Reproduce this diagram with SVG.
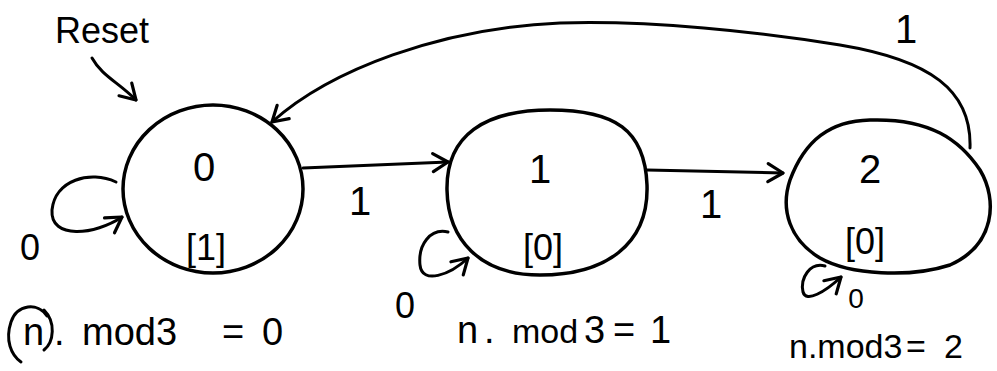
<svg xmlns="http://www.w3.org/2000/svg" width="997" height="371" viewBox="0 0 997 371">
<defs>
<style>
.node{fill:none;stroke:#000;stroke-width:3.5;stroke-linecap:round;stroke-linejoin:round}
.edge{fill:none;stroke:#000;stroke-width:3;stroke-linecap:round}
.t{font-family:"Liberation Sans",Arial,sans-serif;fill:#000}
.big{font-size:40px;text-anchor:middle}
.out{font-size:36px;text-anchor:middle}
.lbl{font-size:40px;text-anchor:middle}
.cap{font-size:38px}
</style>
<marker id="ah" markerUnits="userSpaceOnUse" markerWidth="24" markerHeight="24" viewBox="0 0 24 24" refX="20" refY="12" orient="auto">
<path d="M5,3 L20,12 L5,21" fill="none" stroke="#000" stroke-width="3.2" stroke-linecap="round" stroke-linejoin="round"/>
</marker>
</defs>
<rect width="997" height="371" fill="#fff"/>

<g id="connectors">
<path class="edge" d="M92 58 C102 76 118 82 136 100" marker-end="url(#ah)"/>
<path class="edge" d="M303 168 L448 162" marker-end="url(#ah)"/>
<path class="edge" d="M647 170 L783 173" marker-end="url(#ah)"/>
<path class="edge" d="M970 148 C972 90 930 60 840 45 C760 32 650 20 560 23 C440 28 330 70 272 122" marker-end="url(#ah)"/>
<path class="edge" d="M116 182 C90 170 55 180 52 210 C50 240 95 235 122 217" marker-end="url(#ah)"/>
<path class="edge" d="M448 232 C430 228 418 245 420 265 C422 285 450 275 468 258" marker-end="url(#ah)"/>
<path class="edge" d="M825 266 C810 262 800 278 803 292 C806 303 825 292 841 277" marker-end="url(#ah)"/>
<text class="t lbl" x="360" y="215">1</text>
<text class="t lbl" x="711" y="218">1</text>
<text class="t lbl" x="906" y="43">1</text>
<text class="t" x="30" y="260" font-size="36" text-anchor="middle">0</text>
<text class="t" x="405" y="318" font-size="36" text-anchor="middle">0</text>
<text class="t" x="856" y="308" font-size="28" text-anchor="middle">0</text>
<text class="t" x="55" y="43" font-size="36">Reset</text>
</g>

<g id="node0">
<ellipse class="node" cx="213" cy="189" rx="90" ry="84"/>
<text class="t big" x="204" y="181">0</text>
<text class="t out" x="206" y="260">[1]</text>
</g>

<g id="node1">
<path class="node" d="M550 110 C615 110 645 130 647 185 C649 245 605 275 540 275 C480 275 448 240 447 190 C446 135 485 110 550 110 Z"/>
<text class="t big" x="540" y="183">1</text>
<text class="t out" x="543" y="260">[0]</text>
</g>

<g id="node2">
<path class="node" d="M870 120 C930 118 960 140 980 170 C998 200 995 245 950 265 C910 278 850 275 820 258 C790 240 780 210 790 180 C805 140 830 121 870 120 Z"/>
<text class="t big" x="870" y="183">2</text>
<text class="t out" x="865" y="254">[0]</text>
</g>

<g id="captions">
<path class="edge" d="M47 316 C38 302 17 304 11 322 C5 340 11 355 21 362 M44 310 C56 322 54 342 44 350" stroke-width="2.5"/>
<text class="t cap" x="23" y="345">n<tspan x="54">.</tspan><tspan x="82">mod3</tspan><tspan x="222">=</tspan><tspan x="262">0</tspan></text>
<text class="t cap" x="457" y="343">n<tspan x="484">.</tspan><tspan x="512" font-size="34">mod</tspan><tspan x="584">3</tspan><tspan x="613">=</tspan><tspan x="650">1</tspan></text>
<text class="t" x="789" y="358" font-size="34">n.mod3<tspan x="906">=</tspan><tspan x="944">2</tspan></text>
</g>
</svg>
